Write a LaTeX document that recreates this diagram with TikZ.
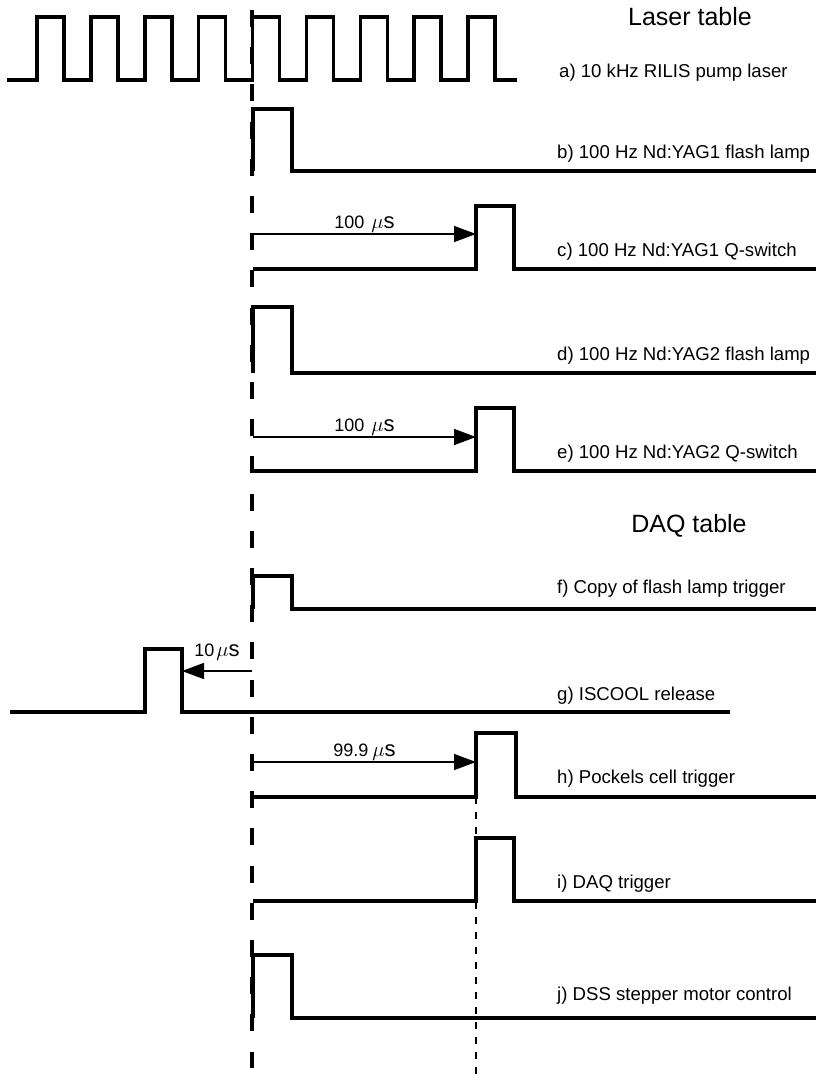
\documentclass[tikz,border=0pt]{standalone}
\usepackage{fontspec}
\setmainfont{Liberation Sans}
\usetikzlibrary{arrows.meta}

\newcommand{\musec}{{\fontsize{22}{24}\selectfont$\mu$s}}

\begin{document}
\begin{tikzpicture}[
    x=1pt, y=-1pt,
    signal/.style={draw, line width=3.5pt},
    zeroline/.style={draw, line width=4pt, dash pattern=on 17pt off 20.2pt},
    guide/.style={draw, line width=1.8pt, dash pattern=on 7pt off 8pt},
    delay/.style={draw, line width=1.5pt, -{Triangle[length=22pt, width=16pt]}},
    siglabel/.style={anchor=base west, inner sep=0pt, font=\fontsize{18.6}{22}\selectfont},
    heading/.style={anchor=base, inner sep=0pt, font=\fontsize{25}{30}\selectfont},
    delaytext/.style={inner sep=1pt, font=\fontsize{18}{20}\selectfont}
]
    \useasboundingbox (0,0) rectangle (816,1085);

    % Reference lines
    \draw [zeroline] (252,10) -- (252,1068);
    \draw [guide] (476,797) -- (476,1077);

    % Headings and labels
    \node [heading] (laser) at (690,25) {Laser table};
    \node [heading] (daq) at (689,532) {DAQ table};
    \node [siglabel] (lbla) at (559,77) {a) 10 kHz RILIS pump laser};
    \node [siglabel] (lblb) at (557,158) {b) 100 Hz Nd:YAG1 flash lamp};
    \node [siglabel] (lblc) at (557,256) {c) 100 Hz Nd:YAG1 Q-switch};
    \node [siglabel] (lbld) at (557,360) {d) 100 Hz Nd:YAG2 flash lamp};
    \node [siglabel] (lble) at (557,458) {e) 100 Hz Nd:YAG2 Q-switch};
    \node [siglabel] (lblf) at (557,593) {f) Copy of flash lamp trigger};
    \node [siglabel] (lblg) at (557,700) {g) ISCOOL release};
    \node [siglabel] (lblh) at (557,783) {h) Pockels cell trigger};
    \node [siglabel] (lbli) at (557,888) {i) DAQ trigger};
    \node [siglabel] (lblj) at (557,1000) {j) DSS stepper motor control};

    % Waveforms
    \draw [signal] (7,80) foreach \k in {0,...,8} {
        -- ({37+53.875*\k},80) -- ({37+53.875*\k},17)
        -- ({64+53.875*\k},17) -- ({64+53.875*\k},80) } -- (517,80);
    \draw [signal] (253,171) -- (253,109) -- (292,109) -- (292,171) -- (816,171);
    \draw [signal] (253,269) -- (476,269) -- (476,206) -- (514,206) -- (514,269) -- (816,269);
    \draw [signal] (253,373) -- (253,307) -- (292,307) -- (292,373) -- (816,373);
    \draw [signal] (253,471) -- (476,471) -- (476,408) -- (514,408) -- (514,471) -- (816,471);
    \draw [signal] (253,609) -- (253,576) -- (292,576) -- (292,609) -- (816,609);
    \draw [signal] (10,712) -- (145,712) -- (145,649) -- (182,649) -- (182,712) -- (730,712);
    \draw [signal] (253,797) -- (476,797) -- (476,733) -- (516,733) -- (516,797) -- (816,797);
    \draw [signal] (253,901) -- (476,901) -- (476,838) -- (514,838) -- (514,901) -- (816,901);
    \draw [signal] (253,1018) -- (253,955) -- (292,955) -- (292,1018) -- (816,1018);

    % Delays
    \coordinate (c0) at (253,234);
    \coordinate (c1) at (476,234);
    \coordinate (e0) at (253,437);
    \coordinate (e1) at (476,437);
    \coordinate (g0) at (252,671);
    \coordinate (g1) at (182,671);
    \coordinate (h0) at (253,762);
    \coordinate (h1) at (476,762);
    \path [delay] (c0) -- (c1) node[midway, above, delaytext] {100\hspace{7pt}\musec};
    \path [delay] (e0) -- (e1) node[midway, above, delaytext] {100\hspace{7pt}\musec};
    \path [delay] (g0) -- (g1) node[midway, above=9pt, delaytext] {10\hspace{2pt}\musec};
    \path [delay] (h0) -- (h1) node[midway, above, delaytext] {99.9\hspace{4pt}\musec};
\end{tikzpicture}
\end{document}
